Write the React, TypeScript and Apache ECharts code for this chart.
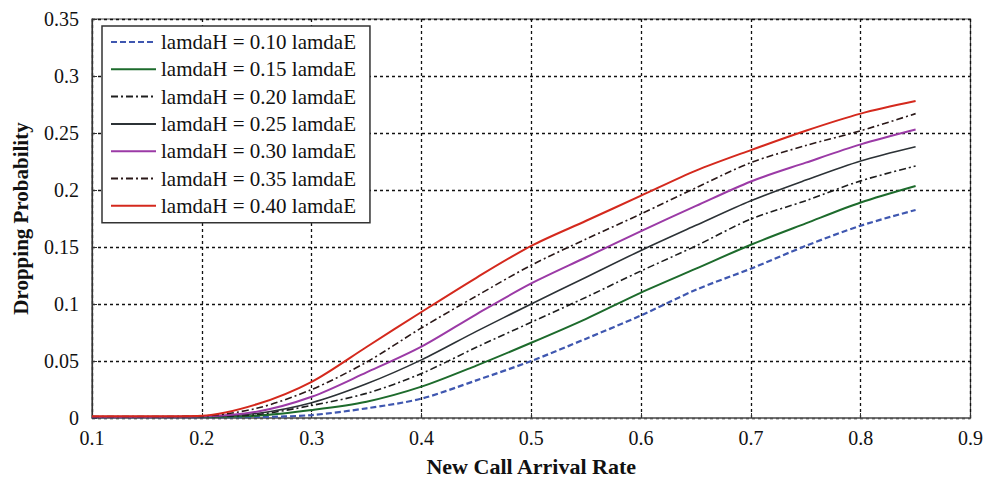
import React, { useEffect, useRef } from "react";
import * as echarts from "echarts";

const xValues = [0.1, 0.15, 0.2, 0.25, 0.3, 0.35, 0.4, 0.45, 0.5, 0.55, 0.6, 0.65, 0.7, 0.75, 0.8, 0.85];

const seriesNames = [
  "lamdaH = 0.10 lamdaE",
  "lamdaH = 0.15 lamdaE",
  "lamdaH = 0.20 lamdaE",
  "lamdaH = 0.25 lamdaE",
  "lamdaH = 0.30 lamdaE",
  "lamdaH = 0.35 lamdaE",
  "lamdaH = 0.40 lamdaE",
];

const h010 = [0.0008, 0.0008, 0.0008, 0.0009, 0.0026, 0.0085, 0.017, 0.033, 0.05, 0.0696, 0.09, 0.1125, 0.131, 0.151, 0.1687, 0.1825];
const h015 = [0.0009, 0.0009, 0.001, 0.002, 0.007, 0.0143, 0.0275, 0.046, 0.066, 0.087, 0.11, 0.131, 0.152, 0.1707, 0.189, 0.2035];
const h020 = [0.001, 0.001, 0.0012, 0.003, 0.011, 0.0216, 0.039, 0.062, 0.084, 0.106, 0.129, 0.151, 0.1745, 0.1906, 0.208, 0.221];
const h025 = [0.001, 0.001, 0.0013, 0.004, 0.0134, 0.03, 0.051, 0.076, 0.1, 0.1235, 0.147, 0.169, 0.1906, 0.2087, 0.2255, 0.238];
const h030 = [0.0012, 0.0012, 0.0015, 0.0055, 0.0186, 0.04, 0.0626, 0.091, 0.118, 0.141, 0.164, 0.186, 0.2075, 0.224, 0.24, 0.253];
const h035 = [0.0013, 0.0013, 0.0018, 0.0085, 0.025, 0.049, 0.079, 0.107, 0.134, 0.157, 0.179, 0.202, 0.224, 0.239, 0.252, 0.267];
const h040 = [0.0015, 0.0015, 0.002, 0.012, 0.0317, 0.0623, 0.093, 0.123, 0.151, 0.173, 0.195, 0.217, 0.235, 0.252, 0.267, 0.278];

const seriesValues = [h010, h015, h020, h025, h030, h035, h040];

const seriesColors = ["#3f57b0", "#1d6b2c", "#1e1e1e", "#2c3236", "#9b3aa6", "#2a1818", "#d4291d"];
const seriesDash: (number[] | string)[] = [
  [6, 3],
  "solid",
  [7, 3, 2, 3],
  "solid",
  "solid",
  [7, 3, 2, 3],
  "solid",
];
const seriesWidth = [2.2, 2, 1.6, 1.6, 2, 1.6, 2];

const serif = "'Liberation Serif', 'Times New Roman', serif";

export default function App() {
  const ref = useRef<HTMLDivElement>(null);
  useEffect(() => {
    document.body.style.margin = "0";
    if (!ref.current) return;
    const chart = echarts.init(ref.current, undefined, { renderer: "svg" });
    chart.setOption({
      animation: false,
      backgroundColor: "#ffffff",
      grid: {
        left: 92,
        right: 6,
        top: 19,
        bottom: 66,
        show: true,
        borderColor: "#444",
        borderWidth: 1.2,
      },
      legend: {
        orient: "vertical",
        left: 102,
        top: 26,
        itemWidth: 45,
        itemHeight: 14,
        itemGap: 6.3,
        padding: [5.5, 14, 6.5, 8],
        backgroundColor: "#ffffff",
        borderColor: "#333",
        borderWidth: 1.5,
        itemStyle: { opacity: 0 },
        textStyle: { fontFamily: serif, fontSize: 21, color: "#111" },
        data: seriesNames,
      },
      xAxis: {
        type: "value",
        min: 0.1,
        max: 0.9,
        interval: 0.1,
        name: "New Call Arrival Rate",
        nameLocation: "middle",
        nameGap: 37,
        nameTextStyle: { fontFamily: serif, fontSize: 22, fontWeight: "bold", color: "#111" },
        axisLine: { lineStyle: { color: "#666", width: 1.5 } },
        axisTick: { inside: true, length: 5, lineStyle: { color: "#333" } },
        axisLabel: {
          fontFamily: serif,
          fontSize: 20,
          color: "#111",
          margin: 10,
          formatter: (v: number) => String(+v.toFixed(2)),
        },
        splitLine: { show: true, lineStyle: { color: "#111", type: [3, 3], width: 1.3 } },
      },
      yAxis: {
        type: "value",
        min: 0,
        max: 0.35,
        interval: 0.05,
        name: "Dropping Probability",
        nameLocation: "middle",
        nameGap: 61,
        nameTextStyle: { fontFamily: serif, fontSize: 21, fontWeight: "bold", color: "#111" },
        axisLine: { show: true, lineStyle: { color: "#333", width: 1.2 } },
        axisTick: { inside: true, length: 5, lineStyle: { color: "#333" } },
        axisLabel: {
          fontFamily: serif,
          fontSize: 20,
          color: "#111",
          margin: 13,
          formatter: (v: number) => String(+v.toFixed(2)),
        },
        splitLine: { show: true, lineStyle: { color: "#111", type: [3, 3], width: 1.3 } },
      },
      series: seriesNames.map((name, i) => ({
        name,
        type: "line",
        data: xValues.map((x, j) => [x, seriesValues[i][j]]),
        smooth: 0.3,
        symbol: "none",
        showSymbol: false,
        itemStyle: { color: seriesColors[i] },
        lineStyle: { color: seriesColors[i], width: seriesWidth[i], type: seriesDash[i] },
      })),
    });
    return () => chart.dispose();
  }, []);
  return <div ref={ref} style={{ width: 986, height: 484 }} />;
}
